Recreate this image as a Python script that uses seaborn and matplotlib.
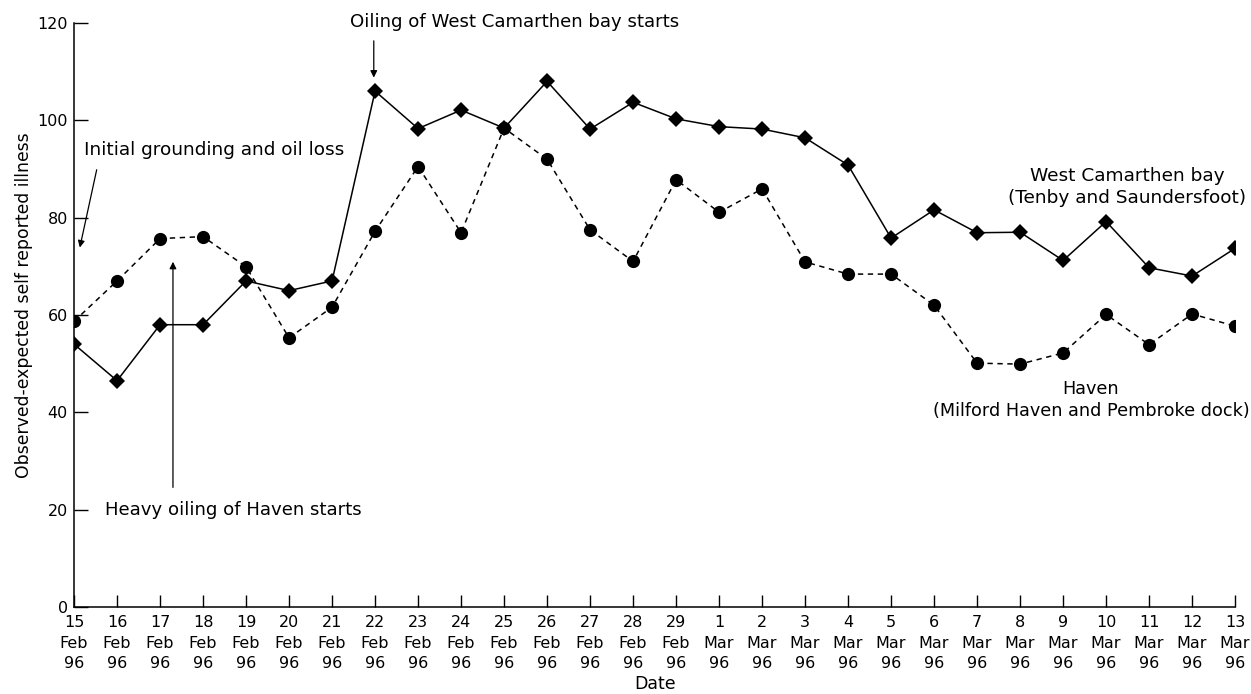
import numpy as np
import pandas as pd
import matplotlib
matplotlib.use("Agg")
import matplotlib.pyplot as plt
import seaborn as sns

# dates (x categories)
days = [15, 16, 17, 18, 19, 20, 21, 22, 23, 24, 25, 26, 27, 28, 29,
        1, 2, 3, 4, 5, 6, 7, 8, 9, 10, 11, 12, 13]
months = ["Feb"] * 15 + ["Mar"] * 13
tick_labels = [f"{d}\n{m}\n96" for d, m in zip(days, months)]

# observed-expected self reported illness
west_camarthen = [54, 46.5, 58, 58, 67, 65, 67, 106, 98.3, 102.1, 98.4, 108, 98.2, 103.7,
                  100.3, 98.7, 98.2, 96.4, 90.8, 75.8, 81.6, 76.9, 77, 71.2, 79.2, 69.7, 68, 73.7]
haven = [58.7, 67, 75.7, 76.1, 69.9, 55.3, 61.6, 77.2, 90.5, 76.9, 98.4, 92, 77.5, 71,
         87.8, 81.1, 85.9, 70.9, 68.4, 68.4, 62, 50.1, 49.9, 52.2, 60.1, 53.9, 60.2, 57.7]

df = pd.DataFrame({"pos": np.arange(len(days)),
                   "west": west_camarthen,
                   "haven": haven})

sns.set_style("ticks")
plt.rcParams["font.family"] = ["DejaVu Sans"]
for key in ["text.color", "axes.labelcolor", "xtick.color", "ytick.color", "axes.edgecolor"]:
    plt.rcParams[key] = "black"

fig = plt.figure(figsize=(12.51, 6.94), dpi=100)
ax = fig.add_axes([0.0592, 0.1254, 0.9281, 0.8415])

sns.lineplot(data=df, x="pos", y="haven", ax=ax, color="black", linewidth=1.1,
             marker="o", markersize=9.5, markeredgewidth=0)
ax.lines[-1].set_dashes([3.5, 3])
sns.lineplot(data=df, x="pos", y="west", ax=ax, color="black", linewidth=1.1,
             marker="D", markersize=7.8, markeredgewidth=0)

ax.set_xlim(0, len(days) - 1)
ax.set_ylim(0, 120)
ax.set_xticks(df["pos"])
ax.set_xticklabels(tick_labels, fontsize=11.5, linespacing=1.45)
ax.set_yticks([0, 20, 40, 60, 80, 100, 120])
ax.tick_params(axis="y", direction="in", length=10, width=1, labelsize=11.5, pad=4.5)
ax.tick_params(axis="x", direction="in", length=9, width=1, pad=6)
sns.despine(ax=ax)
ax.spines["left"].set_linewidth(1.1)
ax.spines["bottom"].set_linewidth(1.1)

ax.set_xlabel("Date", fontsize=12.5, labelpad=3)
ax.set_ylabel("Observed-expected self reported illness", fontsize=12.4)
ax.yaxis.set_label_coords(-0.035, 0.517)

# annotations
arrow = dict(arrowstyle="-|>", color="black", lw=0.9, mutation_scale=10)
ax.annotate("", xy=(6.97, 108.2), xytext=(6.97, 116.9), arrowprops=arrow)
ax.text(6.42, 120.2, "Oiling of West Camarthen bay starts", fontsize=13.1, va="center", ha="left")

ax.annotate("", xy=(0.12, 73.3), xytext=(0.54, 90.4), arrowprops=arrow)
ax.text(0.23, 93.9, "Initial grounding and oil loss", fontsize=13.3, va="center", ha="left")

ax.annotate("", xy=(2.3, 71.5), xytext=(2.3, 24), arrowprops=arrow)
ax.text(0.72, 19.9, "Heavy oiling of Haven starts", fontsize=13.1, va="center", ha="left")

ax.text(24.49, 86.3, "West Camarthen bay\n(Tenby and Saundersfoot)", fontsize=13.3,
        ha="center", va="center", linespacing=1.25)
ax.text(23.65, 42.5, "Haven\n(Milford Haven and Pembroke dock)", fontsize=12.7,
        ha="center", va="center", linespacing=1.3)

fig.savefig("out.png", dpi=100)
